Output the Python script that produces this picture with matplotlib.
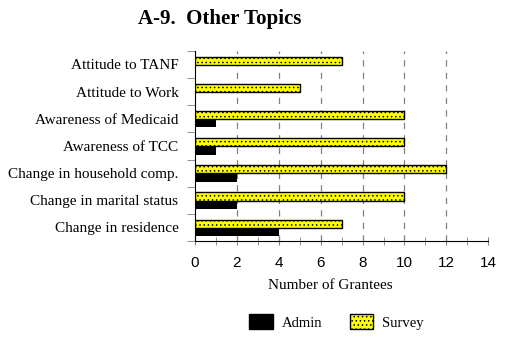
import numpy as np
import matplotlib.pyplot as plt
from matplotlib.patches import Patch

categories = ['Attitude to TANF', 'Attitude to Work', 'Awareness of Medicaid',
              'Awareness of TCC', 'Change in household comp.',
              'Change in marital status', 'Change in residence']
admin = [0, 0, 1, 1, 2, 2, 4]
survey = [7, 5, 10, 10, 12, 10, 7]
xTicks = [0, 2, 4, 6, 8, 10, 12, 14]

plt.rcParams['hatch.linewidth'] = 0.6
serif = 'Liberation Serif'
sans = 'Liberation Sans'

fig = plt.figure(figsize=(5.08, 3.39), dpi=100)
ax = fig.add_axes([0.384, 0.289, 0.577, 0.561])

n = len(categories)
pos = np.arange(n)
barH = 0.3
ax.barh(pos - 0.14, survey, height=barH, color='#ffff00', edgecolor='black',
        hatch='....', linewidth=1.0, zorder=3)
ax.barh(pos + 0.17, admin, height=barH, color='black', edgecolor='black',
        linewidth=0, zorder=3)

ax.set_ylim(n - 0.5, -0.5)
ax.set_xlim(0, 14)

ax.set_yticks(pos)
ax.set_yticklabels(categories, fontfamily=serif, fontsize=11)
ax.tick_params(axis='y', length=0, pad=12)
ax.set_yticks(np.arange(n + 1) - 0.5, minor=True)
ax.tick_params(axis='y', which='minor', length=6, color='gray', direction='out')

ax.set_xticks(xTicks)
ax.set_xticklabels([str(v) for v in xTicks], fontfamily=sans, fontsize=11)
ax.set_xticks(np.arange(0, 15), minor=True)
ax.tick_params(axis='x', which='both', direction='inout', length=6, color='gray', pad=8)

for v in xTicks[1:-1]:
    ax.axvline(v, color='gray', linestyle=(0, (5, 5)), linewidth=0.9, zorder=1)

for s in ['top', 'right']:
    ax.spines[s].set_visible(False)
ax.spines['left'].set_color('black')
ax.spines['bottom'].set_color('black')

ax.set_xlabel('Number of Grantees', fontfamily=serif, fontsize=11, labelpad=4)
ax.xaxis.set_label_coords(0.46, -0.2)

fig.text(0.433, 0.945, 'A-9.  Other Topics', fontfamily=serif, fontsize=15,
         fontweight='bold', ha='center', va='center')

handles = [Patch(facecolor='black', edgecolor='black'),
           Patch(facecolor='#ffff00', edgecolor='black', hatch='....')]
fig.legend(handles, ['Admin', 'Survey'], loc='center', bbox_to_anchor=(0.662, 0.05),
           ncol=2, frameon=False, prop={'family': serif, 'size': 10.5},
           handlelength=1.6, handleheight=1.2, columnspacing=1.9, handletextpad=0.6)

fig.savefig('out.png', dpi=100)
